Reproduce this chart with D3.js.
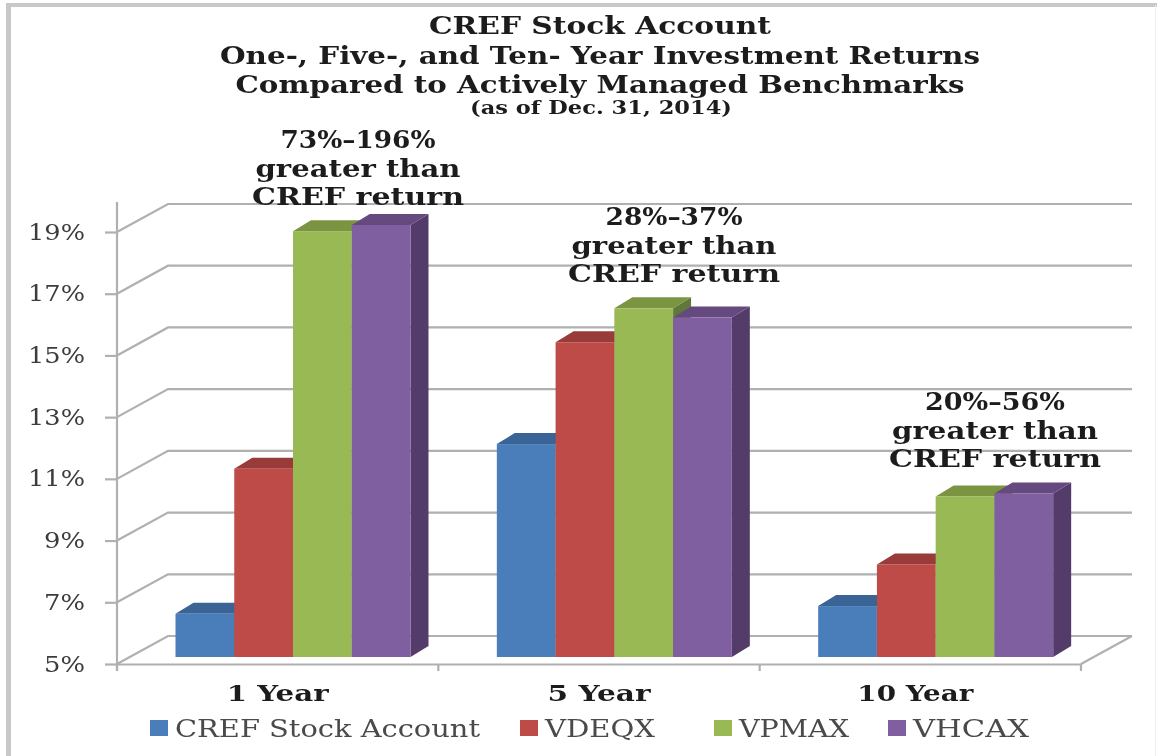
<!DOCTYPE html>
<html>
<head>
<meta charset="utf-8">
<script src="https://cdnjs.cloudflare.com/ajax/libs/d3/7.8.5/d3.min.js"></script>
<style>
  html, body { margin: 0; padding: 0; background: #fff; }
  svg { display: block; filter: blur(0.7px); }
  text { font-family: "DejaVu Serif", serif; }
</style>
</head>
<body>
<div id="chart"></div>
<script>
const categories = ["1 Year", "5 Year", "10 Year"];
const seriesNames = ["CREF Stock Account", "VDEQX", "VPMAX", "VHCAX"];
const cref = [6.4, 11.9, 6.65];
const vdeqx = [11.1, 15.2, 8.0];
const vpmax = [18.8, 16.3, 10.2];
const vhcax = [19.0, 16.0, 10.3];
const yTicks = [5, 7, 9, 11, 13, 15, 17, 19];
const titleLines = [
  "CREF Stock Account",
  "One-, Five-, and Ten- Year Investment Returns",
  "Compared to Actively Managed Benchmarks"
];
const subtitle = "(as of Dec. 31, 2014)";
const notes = [
  ["73%\u2013196%", "greater than", "CREF return"],
  ["28%\u201337%", "greater than", "CREF return"],
  ["20%\u201356%", "greater than", "CREF return"]
];

const w = 1157;
const h = 756;
const faceColors = ["#4a7ebb", "#be4b48", "#98b954", "#7f5fa0"];
const topColors = ["#3a6396", "#983b39", "#7a9442", "#65497f"];
const sideColors = ["#2f5079", "#7c302e", "#62773a", "#533c69"];
const gridColor = "#b0b0b0";

// 3d offsets of the chart box and of the bars
const depthX = 51;
const depthY = 28;
const barDepthX = 18;
const barDepthY = 11;
const barDrop = 7;

// the source uses a very wide serif, so text widths are forced to match it
const titleWidths = [342, 760, 729];
const noteWidths = [[155, 205, 212], [137, 205, 212], [140, 206, 212]];
const catWidths = [102, 103, 116];
const legendWidths = [305, 110, 110, 116];

const svg = d3.select("#chart").append("svg")
  .attr("width", w)
  .attr("height", h);

// picture frame: only top and left are really visible in the source
svg.append("line").attr("x1", 6).attr("x2", w).attr("y1", 5).attr("y2", 5)
  .attr("stroke", "#c8c8c8").attr("stroke-width", 4);
svg.append("line").attr("x1", 8.5).attr("x2", 8.5).attr("y1", 3).attr("y2", h)
  .attr("stroke", "#c8c8c8").attr("stroke-width", 5);
svg.append("line").attr("x1", 1155.5).attr("x2", 1155.5).attr("y1", 5).attr("y2", h)
  .attr("stroke", "#f0f0f0").attr("stroke-width", 1);

const x = d3.scaleBand().domain(categories).range([117, 1081]);
const y = d3.scaleLinear().domain([5, 19]).range([664, 232]);
const xBar = d3.scaleBand().domain(seriesNames).range([0, 235]);
const barOffset = 58.5;

// back wall and side lines
const grid = svg.append("g").attr("fill", "none").attr("stroke", gridColor).attr("stroke-width", 2.2);
yTicks.forEach(t => {
  grid.append("path")
    .attr("d", d3.line()([
      [x.range()[0], y(t)],
      [x.range()[0] + depthX, y(t) - depthY],
      [x.range()[1] + depthX, y(t) - depthY]
    ]));
});
grid.append("path")
  .attr("d", d3.line()([
    [x.range()[1], y(5)],
    [x.range()[1] + depthX, y(5) - depthY]
  ]));

// axes
const yAxis = d3.axisLeft(y).tickValues(yTicks).tickSize(12).tickPadding(20).tickFormat(d => d + "%");
const gy = svg.append("g").attr("transform", `translate(${x.range()[0]},0)`).call(yAxis);
gy.select(".domain").remove();
gy.selectAll("line").attr("stroke", gridColor).attr("stroke-width", 2.2);
gy.selectAll("text")
  .attr("font-size", 22)
  .attr("font-weight", 400)
  .attr("fill", "#3c3c3c")
  .attr("textLength", d => d < 10 ? 41 : 57)
  .attr("lengthAdjust", "spacingAndGlyphs");
svg.append("line")
  .attr("x1", x.range()[0]).attr("x2", x.range()[0])
  .attr("y1", y(19) - 30).attr("y2", y(5) + 6)
  .attr("stroke", gridColor).attr("stroke-width", 2.2);

const xAxis = d3.axisBottom(x).tickValues([]).tickSizeOuter(0);
const gx = svg.append("g").attr("transform", `translate(0,${y(5)})`).call(xAxis);
gx.select(".domain").attr("stroke", gridColor).attr("stroke-width", 2.2);
x.domain().forEach(c => {
  const tx = x(c) + x.bandwidth();
  gx.append("line").attr("x1", tx).attr("x2", tx).attr("y1", 0).attr("y2", 7)
    .attr("stroke", gridColor).attr("stroke-width", 2.2);
});
svg.append("line")
  .attr("x1", x.range()[0]).attr("x2", x.range()[0])
  .attr("y1", y(5)).attr("y2", y(5) + 7)
  .attr("stroke", gridColor).attr("stroke-width", 2.2);

gx.selectAll(".cat")
  .data(categories)
  .enter()
  .append("text")
  .attr("class", "cat")
  .attr("x", (d, i) => x(d) + x.bandwidth() / 2 + [0, 0, -5][i])
  .attr("y", 37)
  .attr("text-anchor", "middle")
  .attr("font-size", 22)
  .attr("font-weight", 700)
  .attr("fill", "#1c1c1c")
  .attr("textLength", (d, i) => catWidths[i])
  .attr("lengthAdjust", "spacingAndGlyphs")
  .text(d => d);

// bars, drawn left to right so the later ones cover the earlier sides
const allSeries = [cref, vdeqx, vpmax, vhcax];
categories.forEach((c, ci) => {
  seriesNames.forEach((s, si) => {
    const v = allSeries[si][ci];
    const x0 = x(c) + barOffset + xBar(s);
    const x1 = x0 + xBar.bandwidth();
    const top = y(v) - barDrop;
    const base = y(5) - barDrop;
    const g = svg.append("g");
    g.append("path")
      .attr("fill", sideColors[si])
      .attr("d", d3.line()([[x1, top], [x1 + barDepthX, top - barDepthY], [x1 + barDepthX, base - barDepthY], [x1, base]]) + "Z");
    g.append("path")
      .attr("fill", topColors[si])
      .attr("d", d3.line()([[x0, top], [x0 + barDepthX, top - barDepthY], [x1 + barDepthX, top - barDepthY], [x1, top]]) + "Z");
    g.append("rect")
      .attr("x", x0)
      .attr("y", top)
      .attr("width", xBar.bandwidth())
      .attr("height", base - top)
      .attr("fill", faceColors[si]);
  });
});

// titles
svg.selectAll(".title")
  .data(titleLines)
  .enter()
  .append("text")
  .attr("class", "title")
  .attr("x", 600)
  .attr("y", (d, i) => 34 + i * 29.5)
  .attr("text-anchor", "middle")
  .attr("font-size", 25)
  .attr("font-weight", 700)
  .attr("fill", "#1c1c1c")
  .attr("textLength", (d, i) => titleWidths[i])
  .attr("lengthAdjust", "spacingAndGlyphs")
  .text(d => d);

svg.append("text")
  .attr("x", 601)
  .attr("y", 114)
  .attr("text-anchor", "middle")
  .attr("font-size", 18)
  .attr("font-weight", 700)
  .attr("fill", "#1c1c1c")
  .attr("textLength", 262)
  .attr("lengthAdjust", "spacingAndGlyphs")
  .text(subtitle);

// notes above the bar groups
const noteX = [358, 674, 995];
const noteY = [148, 225, 410];
notes.forEach((lines, i) => {
  svg.selectAll(".note" + i)
    .data(lines)
    .enter()
    .append("text")
    .attr("class", "note" + i)
    .attr("x", noteX[i])
    .attr("y", (d, j) => noteY[i] + j * 28.5)
    .attr("text-anchor", "middle")
    .attr("font-size", 24)
    .attr("font-weight", 700)
    .attr("fill", "#1c1c1c")
    .attr("textLength", (d, j) => noteWidths[i][j])
    .attr("lengthAdjust", "spacingAndGlyphs")
    .text(d => d);
});

// legend
const legendX = [150, 520, 714, 888];
const legend = svg.selectAll(".legend")
  .data(seriesNames)
  .enter()
  .append("g")
  .attr("class", "legend")
  .attr("transform", (d, i) => `translate(${legendX[i]},720)`);
legend.append("rect").attr("width", 18).attr("height", 16).attr("fill", (d, i) => faceColors[i]);
legend.append("text")
  .attr("x", 25)
  .attr("y", 17)
  .attr("font-size", 24)
  .attr("fill", "#4a4a4a")
  .attr("textLength", (d, i) => legendWidths[i])
  .attr("lengthAdjust", "spacingAndGlyphs")
  .text(d => d);
</script>
</body>
</html>
